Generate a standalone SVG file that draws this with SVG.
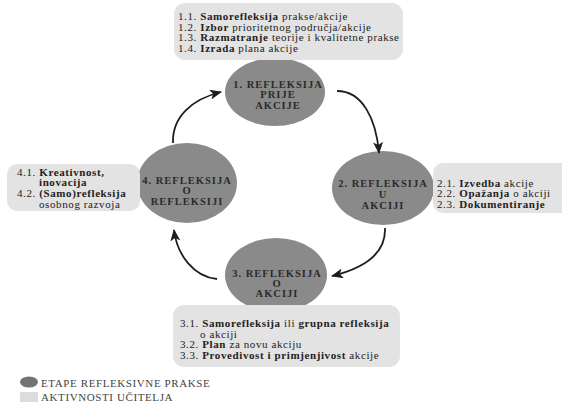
<svg xmlns="http://www.w3.org/2000/svg" width="562" height="406" viewBox="0 0 562 406">
<style>
.stage{fill:#8a8a8a;}
.act{fill:#e3e3e3;}
.st{font-family:"Liberation Serif","Times New Roman",serif;font-weight:bold;font-size:10.5px;letter-spacing:1px;fill:#2b2b2b;text-anchor:middle;}
.tx{font-family:"Liberation Serif","Times New Roman",serif;font-size:11px;letter-spacing:0.6px;fill:#222;}
.b{font-weight:bold;}
.lg{font-family:"Liberation Serif","Times New Roman",serif;font-size:11px;letter-spacing:0.6px;fill:#444;}
.con{fill:none;stroke:#1e1e1e;stroke-width:1.8;marker-end:url(#ah);}
</style>
<defs>
<marker id="ah" markerUnits="userSpaceOnUse" markerWidth="12" markerHeight="10" refX="11" refY="5" orient="auto">
<path d="M0,0 L12,5 L0,10 L3,5 z" fill="#1e1e1e"/>
</marker>
</defs>
<rect width="562" height="406" fill="#ffffff"/>

<g id="stage1">
<ellipse class="stage" cx="275" cy="92" rx="50" ry="34"/>
<text class="st" x="278" y="88">1. REFLEKSIJA</text>
<text class="st" x="278" y="98">PRIJE</text>
<text class="st" x="278" y="109">AKCIJE</text>
</g>
<g id="stage2">
<ellipse class="stage" cx="383" cy="188" rx="51" ry="37"/>
<text class="st" x="383" y="187">2. REFLEKSIJA</text>
<text class="st" x="383" y="198">U</text>
<text class="st" x="383" y="209">AKCIJI</text>
</g>
<g id="stage3">
<ellipse class="stage" cx="276" cy="275" rx="51" ry="37"/>
<text class="st" x="277" y="277">3. REFLEKSIJA</text>
<text class="st" x="277" y="287">O</text>
<text class="st" x="277" y="297">AKCIJI</text>
</g>
<g id="stage4">
<ellipse class="stage" cx="187" cy="183" rx="50" ry="40"/>
<text class="st" x="187" y="184">4. REFLEKSIJA</text>
<text class="st" x="187" y="194">O</text>
<text class="st" x="187" y="205">REFLEKSIJI</text>
</g>

<g id="activities1">
<rect class="act" x="174" y="3" width="229" height="57" rx="11"/>
<text class="tx" x="178" y="20">1.1. <tspan class="b">Samorefleksija</tspan> prakse/akcije</text>
<text class="tx" x="178" y="30.7">1.2. <tspan class="b">Izbor</tspan> prioritetnog područja/akcije</text>
<text class="tx" x="178" y="41.4">1.3. <tspan class="b">Razmatranje</tspan> teorije i kvalitetne prakse</text>
<text class="tx" x="178" y="52.1">1.4. <tspan class="b">Izrada</tspan> plana akcije</text>
</g>
<g id="activities2">
<rect class="act" x="433" y="163" width="140" height="50" rx="10"/>
<text class="tx" x="437" y="186.5">2.1. <tspan class="b">Izvedba</tspan> akcije</text>
<text class="tx" x="437" y="197">2.2. <tspan class="b">Opažanja</tspan> o akciji</text>
<text class="tx" x="437" y="207.5">2.3. <tspan class="b">Dokumentiranje</tspan></text>
</g>
<g id="activities3">
<rect class="act" x="173" y="305" width="227" height="62" rx="11"/>
<text class="tx" x="180" y="327">3.1. <tspan class="b">Samorefleksija</tspan> ili <tspan class="b">grupna refleksija</tspan></text>
<text class="tx" x="200" y="337.5">o akciji</text>
<text class="tx" x="180" y="348">3.2. <tspan class="b">Plan</tspan> za novu akciju</text>
<text class="tx" x="180" y="358.5">3.3. <tspan class="b">Provedivost i primjenjivost</tspan> akcije</text>
</g>
<g id="activities4">
<rect class="act" x="7" y="164" width="133" height="47" rx="10"/>
<text class="tx" x="17" y="175.5">4.1. <tspan class="b">Kreativnost,</tspan></text>
<text class="tx b" x="39" y="186.2">inovacija</text>
<text class="tx" x="17" y="196.9">4.2. <tspan class="b">(Samo)refleksija</tspan></text>
<text class="tx" x="39" y="207.6">osobnog razvoja</text>
</g>

<g id="connectors">
<path class="con" d="M173,143 C172,117 192,99 221,92"/>
<path class="con" d="M337,91 C362,91 376,118 379,153"/>
<path class="con" d="M385,228 C386,253 365,268 332,276"/>
<path class="con" d="M217,279 C194,277 177,255 174,230"/>
</g>

<g id="legend">
<ellipse cx="29" cy="382" rx="9" ry="5.5" fill="#737373"/>
<text class="lg" x="41" y="386.5">ETAPE REFLEKSIVNE PRAKSE</text>
<rect x="20" y="392" width="18" height="10" fill="#dcdcdc"/>
<text class="lg" x="41" y="401">AKTIVNOSTI UČITELJA</text>
</g>
</svg>
